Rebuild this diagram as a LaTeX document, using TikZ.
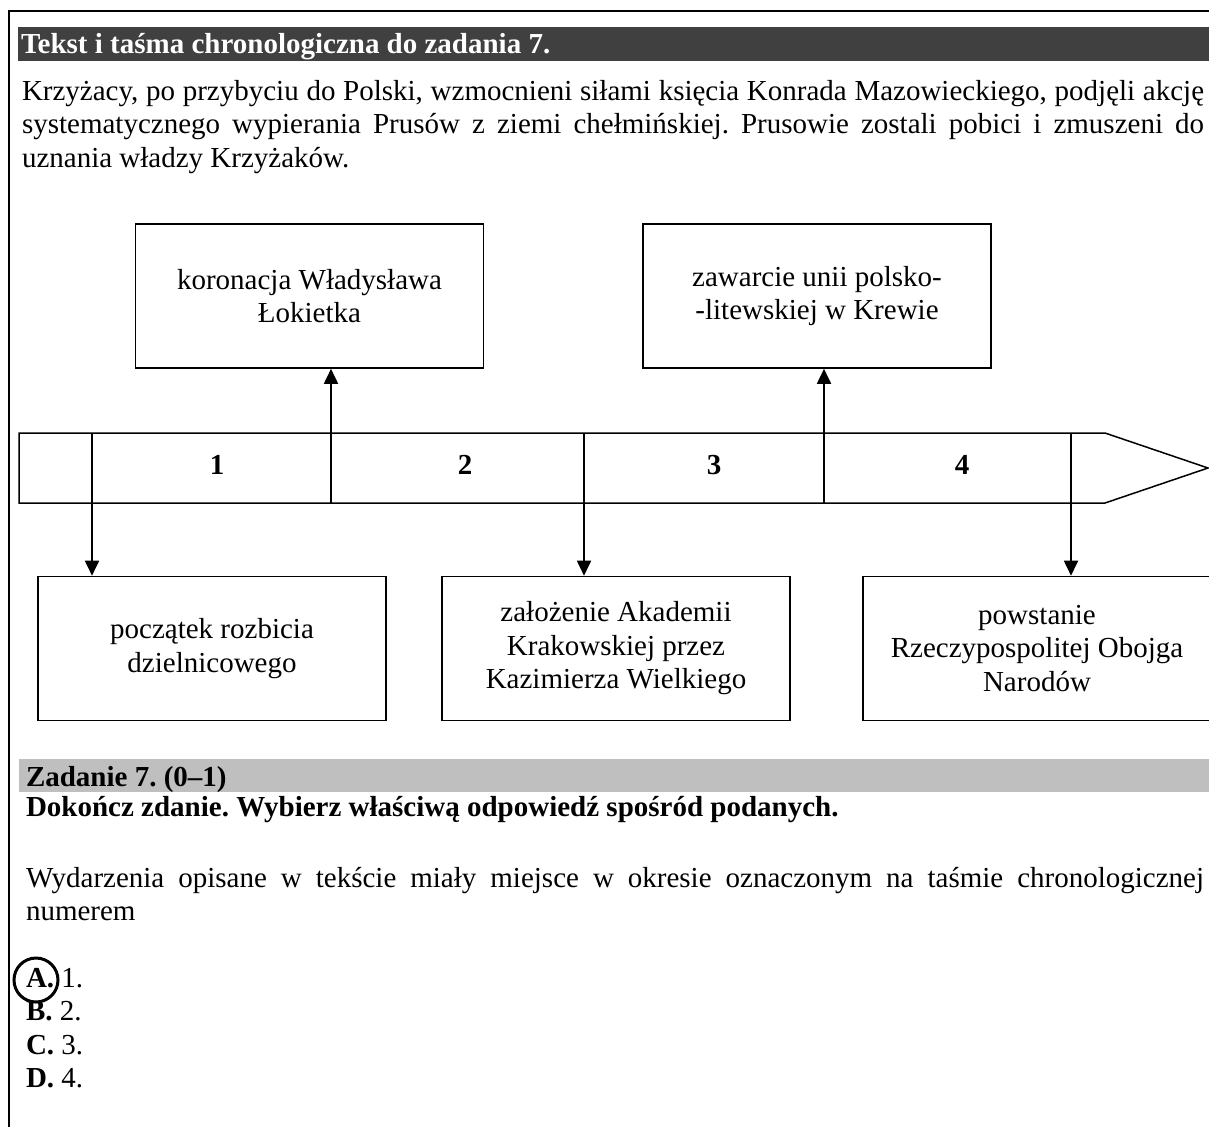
\documentclass[tikz,border=0pt]{standalone}
\usepackage{fontspec}
\setmainfont{Liberation Serif}
\usetikzlibrary{arrows.meta}
\definecolor{hdrgray}{RGB}{64,64,64}
\definecolor{taskgray}{RGB}{191,191,191}
\frenchspacing
\begin{document}
\begin{tikzpicture}[x=0.5pt,y=-0.5pt,
  txt/.style={font=\fontsize{14.5pt}{16.75pt}\selectfont, anchor=base west, inner sep=0pt, outer sep=0pt},
  txtb/.style={font=\fontsize{14.5pt}{16.75pt}\selectfont\bfseries, anchor=base west, inner sep=0pt, outer sep=0pt},
  evbox/.style={draw, line width=0.8pt, minimum width=174pt, minimum height=72pt, align=center,
    font=\fontsize{14.5pt}{16.75pt}\selectfont, inner sep=0pt},
  arr/.style={line width=0.9pt, -{Triangle[length=7.5pt,width=7pt]}},
  numlbl/.style={font=\fontsize{14.5pt}{16.75pt}\selectfont\bfseries, inner sep=0pt},
  band/.style={line width=0.75pt}
]
\useasboundingbox (0,0) rectangle (1209,1126);

% outer frame (top and left visible)
\draw[line width=1pt] (9,1140) -- (9,11) -- (1220,11);

% header
\fill[hdrgray] (18,27) rectangle (1220,61);
\node[txtb, text=white] (hdr) at (21,53) {Tekst i taśma chronologiczna do zadania 7.};

% paragraph
\node[txt] (p1) at (22,100) {\makebox[591pt][s]{Krzyżacy, po przybyciu do Polski, wzmocnieni siłami księcia Konrada Mazowieckiego, podjęli akcję}};
\node[txt] (p2) at (22,133.5) {\makebox[591pt][s]{systematycznego wypierania Prusów z ziemi chełmińskiej. Prusowie zostali pobici i zmuszeni do}};
\node[txt] (p3) at (22,167) {uznania władzy Krzyżaków.};

% event boxes
\node[evbox] (bA) at (309.5,296) {koronacja Władysława\\Łokietka};
\node[evbox] (bB) at (817,296) {zawarcie unii polsko-\\-litewskiej w Krewie};
\node[evbox] (bC) at (212,648.5) {początek rozbicia\\dzielnicowego};
\node[evbox] (bD) at (616,648.5) {założenie Akademii\\Krakowskiej przez\\Kazimierza Wielkiego};
\node[evbox] (bE) at (1037,648.5) {powstanie\\Rzeczypospolitej Obojga\\Narodów};

% time band
\draw[band] (19,433) -- (1105,433) -- (1208,468) -- (1105,503) -- (19,503) -- cycle;

% connectors
\coordinate (d1) at (92,433);
\coordinate (u2) at (331,503);
\coordinate (d3) at (584,433);
\coordinate (u4) at (824,503);
\coordinate (d5) at (1071,433);
\draw[arr] (d1) -- (d1 |- bC.north);
\draw[arr] (u2) -- (u2 |- bA.south);
\draw[arr] (d3) -- (d3 |- bD.north);
\draw[arr] (u4) -- (u4 |- bB.south);
\draw[arr] (d5) -- (d5 |- bE.north);

% period numbers
\node[numlbl] (n1) at (217,465) {1};
\node[numlbl] (n2) at (465,465) {2};
\node[numlbl] (n3) at (714,465) {3};
\node[numlbl] (n4) at (962,465) {4};

% task
\fill[taskgray] (19,759) rectangle (1220,792);
\node[txtb] (tz) at (26,786) {Zadanie 7. (0–1)};
\node[txtb] (tq) at (26,816) {Dokończ zdanie. Wybierz właściwą odpowiedź spośród podanych.};
\node[txt] (w1) at (26,887) {\makebox[589pt][s]{Wydarzenia opisane w tekście miały miejsce w okresie oznaczonym na taśmie chronologicznej}};
\node[txt] (w2) at (26,920.5) {numerem};
\node[txt] (oA) at (26,987) {\textbf{A.} 1.};
\node[txt] (oB) at (26,1020.5) {\textbf{B.} 2.};
\node[txt] (oC) at (26,1054) {\textbf{C.} 3.};
\node[txt] (oD) at (26,1087.5) {\textbf{D.} 4.};
\node[draw, circle, line width=1.5pt, minimum size=22pt, inner sep=0pt] (ring) at (36,980) {};
\end{tikzpicture}
\end{document}
